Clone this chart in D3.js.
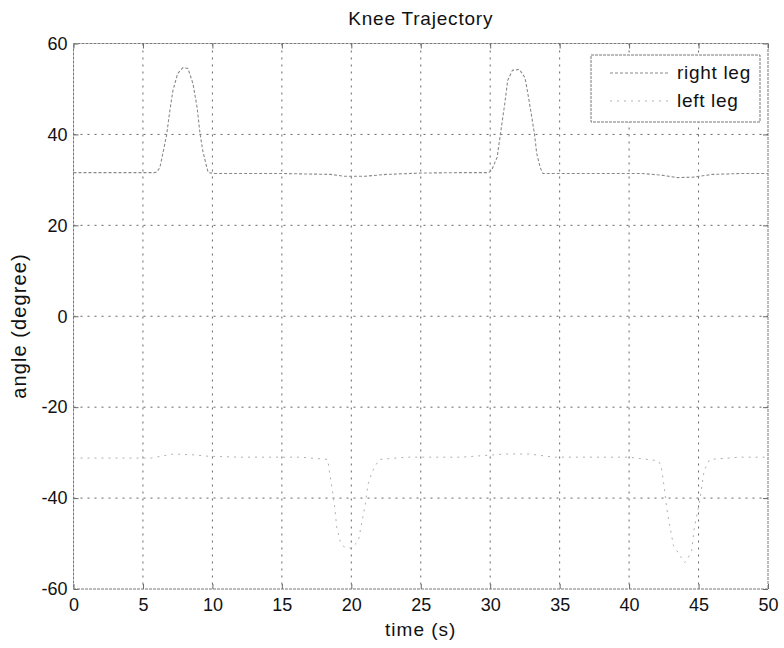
<!DOCTYPE html>
<html>
<head>
<meta charset="utf-8">
<script src="https://cdn.jsdelivr.net/npm/d3@7"></script>
<style>
  html, body { margin: 0; padding: 0; background: #fff; }
  svg { display: block; }
  text { font-family: "Liberation Sans", Arial, Helvetica, sans-serif; fill: #111; }
</style>
</head>
<body>
<svg id="chart" width="784" height="648"></svg>
<script>
// Knee joint angle over time for each leg
const rightTime  = [0, 2, 4, 5.8, 6.0, 6.22, 6.7, 6.94, 7.16, 7.5, 7.88, 8.24, 8.6, 8.9, 9.1, 9.3, 9.6, 9.7, 10.2, 12, 15, 18.5, 19.5, 21, 22.5, 25, 28, 29.9, 30.1, 30.5, 30.8, 31.05, 31.26, 31.6, 32.1, 32.5, 32.7, 33.0, 33.2, 33.35, 33.6, 33.8, 35, 38, 41, 42.4, 43.5, 44.6, 46, 48, 50];
const rightAngle = [31.6, 31.6, 31.6, 31.6, 31.7, 32.7, 39.8, 45.3, 49.7, 53.4, 54.7, 54.5, 51.2, 45.9, 40.4, 36.5, 32.7, 31.6, 31.4, 31.4, 31.4, 31.2, 30.8, 30.8, 31.2, 31.5, 31.6, 31.6, 32.1, 35.0, 41.5, 46.8, 51.9, 54.1, 54.3, 52.5, 49.2, 43.7, 39.8, 35.8, 32.7, 31.4, 31.4, 31.4, 31.4, 31.0, 30.5, 30.6, 31.2, 31.4, 31.4];

const leftTime  = [0, 2.8, 5.6, 7.2, 8.7, 9.7, 12, 16.3, 18.3, 18.45, 18.6, 18.8, 18.95, 19.2, 19.5, 20.0, 20.5, 21.0, 21.2, 21.5, 22, 24, 27.9, 31.1, 32.8, 34.6, 36, 40, 42.1, 42.3, 42.5, 42.7, 42.8, 43.2, 44.0, 44.2, 44.5, 44.7, 45.0, 45.1, 45.4, 45.8, 48, 50];
const leftAngle = [-31.2, -31.2, -31.2, -30.3, -30.5, -30.8, -31, -31, -31.5, -34.7, -37.6, -41.8, -46.4, -49.5, -50.8, -51, -49.5, -41.5, -37, -34.2, -31.5, -31, -31, -30.3, -30.3, -31, -31, -31, -31.8, -32.8, -37, -42, -44, -50.5, -54.2, -53.4, -51.6, -46.4, -42, -40.3, -34, -31.5, -31, -31];

const xTicks = [0, 5, 10, 15, 20, 25, 30, 35, 40, 45, 50];
const yTicks = [-60, -40, -20, 0, 20, 40, 60];
const seriesNames = ["right leg", "left leg"];

const svg = d3.select("#chart");
const plotLeft = 73.5, plotRight = 768, plotTop = 43.5, plotBottom = 589;

const x = d3.scaleLinear().domain([0, 50]).range([plotLeft, plotRight]);
const y = d3.scaleLinear().domain([-60, 60]).range([plotBottom, plotTop]);

// dotted grid
const grid = svg.append("g").attr("stroke", "#666").attr("stroke-width", 1)
  .attr("stroke-dasharray", "2,5").attr("fill", "none");
grid.selectAll("line.vx").data(xTicks.slice(1, -1)).join("line")
  .attr("x1", d => x(d)).attr("x2", d => x(d)).attr("y1", plotTop).attr("y2", plotBottom);
grid.selectAll("line.hy").data(yTicks.slice(1, -1)).join("line")
  .attr("x1", plotLeft).attr("x2", plotRight).attr("y1", d => y(d)).attr("y2", d => y(d));

// axes with inward ticks; plain hyphen for negatives
const tickLen = 5;
const plain = d => String(d);
const xAxisB = d3.axisBottom(x).tickValues(xTicks).tickFormat(plain).tickSizeInner(-tickLen).tickSizeOuter(0).tickPadding(9);
const xAxisT = d3.axisTop(x).tickValues(xTicks).tickSizeInner(-tickLen).tickSizeOuter(0).tickFormat("");
const yAxisL = d3.axisLeft(y).tickValues(yTicks).tickFormat(plain).tickSizeInner(-tickLen).tickSizeOuter(0).tickPadding(6);
const yAxisR = d3.axisRight(y).tickValues(yTicks).tickSizeInner(-tickLen).tickSizeOuter(0).tickFormat("");

function styleAxis(g) {
  g.select(".domain").remove();
  g.selectAll(".tick line").attr("stroke", "#666");
  g.selectAll(".tick text").attr("font-size", 18).attr("fill", "#111")
    .attr("font-family", "'Liberation Sans', Arial, sans-serif");
}
svg.append("g").attr("transform", `translate(0,${plotBottom})`).call(xAxisB).call(styleAxis);
svg.append("g").attr("transform", `translate(0,${plotTop})`).call(xAxisT).call(styleAxis);
svg.append("g").attr("transform", `translate(${plotLeft},0)`).call(yAxisL).call(styleAxis);
svg.append("g").attr("transform", `translate(${plotRight},0)`).call(yAxisR).call(styleAxis);

// axes box
svg.append("rect").attr("x", plotLeft).attr("y", plotTop)
  .attr("width", plotRight - plotLeft).attr("height", plotBottom - plotTop)
  .attr("fill", "none").attr("stroke", "#777").attr("stroke-width", 1)
  .attr("stroke-dasharray", "3,1");

// data lines
const line = d3.line().x(d => x(d[0])).y(d => y(d[1]));
const rightData = rightTime.map((t, i) => [t, rightAngle[i]]);
const leftData = leftTime.map((t, i) => [t, leftAngle[i]]);

const styles = [
  { stroke: "#8a8a8a", dash: "3,2", width: 1.1 },
  { stroke: "#b0b0b0", dash: "2,5", width: 1 }
];

svg.append("path").datum(rightData).attr("d", line)
  .attr("fill", "none").attr("stroke", styles[0].stroke)
  .attr("stroke-width", styles[0].width).attr("stroke-dasharray", styles[0].dash);
svg.append("path").datum(leftData).attr("d", line)
  .attr("fill", "none").attr("stroke", styles[1].stroke)
  .attr("stroke-width", styles[1].width).attr("stroke-dasharray", styles[1].dash);

// legend
const lg = svg.append("g");
lg.append("rect").attr("x", 591).attr("y", 55).attr("width", 169).attr("height", 67)
  .attr("fill", "#fff").attr("stroke", "#777").attr("stroke-dasharray", "3,1");
seriesNames.forEach((name, i) => {
  const yy = 73 + i * 28;
  lg.append("line").attr("x1", 610).attr("x2", 668).attr("y1", yy).attr("y2", yy)
    .attr("stroke", styles[i].stroke).attr("stroke-width", styles[i].width)
    .attr("stroke-dasharray", styles[i].dash);
  lg.append("text").attr("x", 677).attr("y", yy + 6).attr("font-size", 19)
    .attr("letter-spacing", 0.7).text(name);
});

// title and axis labels
svg.append("text").attr("x", (plotLeft + plotRight) / 2).attr("y", 25)
  .attr("text-anchor", "middle").attr("font-size", 19).attr("letter-spacing", 0.8)
  .text("Knee Trajectory");
svg.append("text").attr("x", (plotLeft + plotRight) / 2).attr("y", 636)
  .attr("text-anchor", "middle").attr("font-size", 19).attr("letter-spacing", 1)
  .text("time (s)");
svg.append("text").attr("transform", `translate(26,326) rotate(-90)`)
  .attr("text-anchor", "middle").attr("font-size", 20).attr("letter-spacing", 1.1)
  .text("angle (degree)");
</script>
</body>
</html>
